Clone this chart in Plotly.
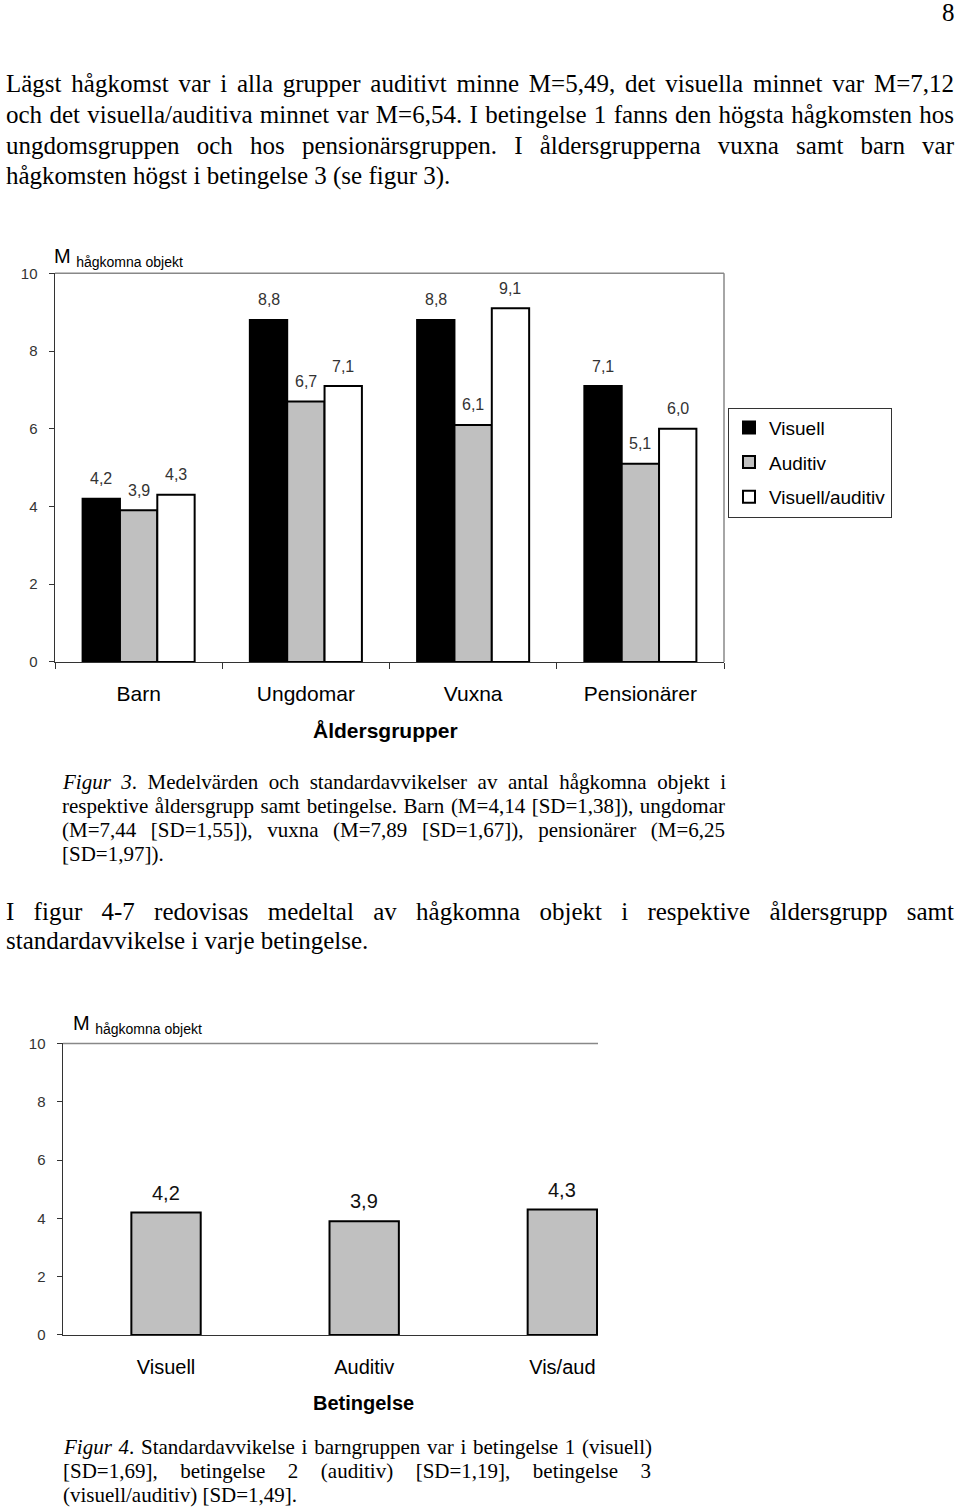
import json
import plotly.graph_objects as go

W, H = 960, 1507

# ---------------- data ----------------
age_groups = ["Barn", "Ungdomar", "Vuxna", "Pensionärer"]
series_names = ["Visuell", "Auditiv", "Visuell/auditiv"]
visuell = [4.2, 8.8, 8.8, 7.1]
auditiv = [3.9, 6.7, 6.1, 5.1]
vis_aud = [4.3, 7.1, 9.1, 6.0]
y_ticks = [0, 2, 4, 6, 8, 10]

conditions = ["Visuell", "Auditiv", "Vis/aud"]
barn_means = [4.2, 3.9, 4.3]

# ---------------- helpers ----------------
def fx(px):
    return px / W

def Y(py):
    # vertical calibration of page positions
    return (py - 10.07) / 0.98723

def fy(py):
    return 1 - Y(py) / H

def fmt(v):
    return f"{v:.1f}".replace(".", ",")

SANS = "Liberation Sans, Arial, sans-serif"
SERIF = "Liberation Serif, Times New Roman, serif"

fills = ["#000000", "#C0C0C0", "#FFFFFF"]
series_vals = [visuell, auditiv, vis_aud]

fig = go.Figure()

# chart 1 bars
for name, vals, col in zip(series_names, series_vals, fills):
    fig.add_trace(go.Bar(
        x=age_groups, y=vals, name=name, legendgroup=name,
        marker=dict(color=col, line=dict(color="#000000", width=2)),
        xaxis="x", yaxis="y", hoverinfo="skip",
    ))

# chart 2 bars
fig.add_trace(go.Bar(
    x=conditions, y=barn_means, width=0.35, showlegend=False,
    marker=dict(color="#C0C0C0", line=dict(color="#000000", width=2)),
    xaxis="x2", yaxis="y2", hoverinfo="skip",
))

# geometry
c1_l, c1_r, c1_t, c1_b = 55, 724, 274, 662
c2_l, c2_r, c2_t, c2_b = 63, 598, 1043, 1334
bargap = 0.33
cat_w = (c1_r - c1_l) / len(age_groups)
bar_w = cat_w * (1 - bargap) / 3

annotations = []

# chart 1 value labels
for i, vals in enumerate(series_vals):
    for cat, v in zip(age_groups, vals):
        annotations.append(dict(
            x=cat, y=v, xref="x", yref="y", text=fmt(v), showarrow=False,
            xshift=(i - 1) * bar_w, yshift=20, yanchor="middle",
            font=dict(family=SANS, size=16, color="#333333"),
        ))

# chart 2 value labels
for cat, v in zip(conditions, barn_means):
    annotations.append(dict(
        x=cat, y=v, xref="x2", yref="y2", text=fmt(v), showarrow=False,
        yshift=20, yanchor="middle",
        font=dict(family=SANS, size=20, color="#111111"),
    ))

# axis labels
annotations += [
    dict(x=fx(52), y=fy(258), xref="paper", yref="paper", xanchor="left", yanchor="middle",
         text="M <sub>hågkomna objekt</sub>", showarrow=False,
         font=dict(family=SANS, size=20, color="#000")),
    dict(x=fx(385), y=fy(730), xref="paper", yref="paper", xanchor="center", yanchor="middle",
         text="<b>Åldersgrupper</b>", showarrow=False,
         font=dict(family=SANS, size=21, color="#000")),
    dict(x=fx(71), y=fy(1024), xref="paper", yref="paper", xanchor="left", yanchor="middle",
         text="M <sub>hågkomna objekt</sub>", showarrow=False,
         font=dict(family=SANS, size=20, color="#000")),
    dict(x=fx(363), y=fy(1402), xref="paper", yref="paper", xanchor="center", yanchor="middle",
         text="<b>Betingelse</b>", showarrow=False,
         font=dict(family=SANS, size=20, color="#000")),
    dict(x=fx(957), y=fy(14), xref="paper", yref="paper", xanchor="right", yanchor="middle",
         text="8", showarrow=False, font=dict(family=SERIF, size=25, color="#000")),
]

BODY = 25
CAP = 21
# body text lines: (text, left px, center y px, font size, right px for justification)
lines = [
    ("Lägst hågkomst var i alla grupper auditivt minne M=5,49, det visuella minnet var M=7,12", 5, 84, BODY, 953),
    ("och det visuella/auditiva minnet var M=6,54. I betingelse 1 fanns den högsta hågkomsten hos", 5, 115, BODY, 953),
    ("ungdomsgruppen och hos pensionärsgruppen. I åldersgrupperna vuxna samt barn var", 5, 146, BODY, 953),
    ("hågkomsten högst i betingelse 3 (se figur 3).", 5, 177, BODY, None),
    ("<i>Figur 3</i>. Medelvärden och standardavvikelser av antal hågkomna objekt i", 61, 782, CAP, 724),
    ("respektive åldersgrupp samt betingelse. Barn (M=4,14 [SD=1,38]), ungdomar", 61, 806, CAP, 724),
    ("(M=7,44 [SD=1,55]), vuxna (M=7,89 [SD=1,67]), pensionärer (M=6,25", 61, 830, CAP, 724),
    ("[SD=1,97]).", 61, 854, CAP, None),
    ("I figur 4-7 redovisas medeltal av hågkomna objekt i respektive åldersgrupp samt", 5, 911, BODY, 953),
    ("standardavvikelse i varje betingelse.", 5, 940, BODY, None),
    ("<i>Figur 4</i>. Standardavvikelse i barngruppen var i betingelse 1 (visuell)", 62, 1446, CAP, 650),
    ("[SD=1,69], betingelse 2 (auditiv) [SD=1,19], betingelse 3", 62, 1470, CAP, 650),
    ("(visuell/auditiv) [SD=1,49].", 62, 1494, CAP, None),
]

justify = {}
for text, lx, cy, size, rx in lines:
    idx = len(annotations)
    annotations.append(dict(
        x=fx(lx), y=fy(cy), xref="paper", yref="paper", xanchor="left", yanchor="middle",
        align="left", text=text, showarrow=False, borderpad=0,
        font=dict(family=SERIF, size=size, color="#000"),
    ))
    if rx is not None:
        justify[str(idx)] = rx - lx

shapes = [
    # chart 1 frame (top & right, gray)
    dict(type="line", xref="x domain", yref="y domain", x0=0, x1=1, y0=1, y1=1,
         line=dict(color="#888888", width=1.5)),
    dict(type="line", xref="x domain", yref="y domain", x0=1, x1=1, y0=0, y1=1,
         line=dict(color="#888888", width=1.5)),
    # chart 2 top line
    dict(type="line", xref="x2 domain", yref="y2 domain", x0=0, x1=1, y0=1, y1=1,
         line=dict(color="#888888", width=1.5)),
]

axis_common = dict(showgrid=False, zeroline=False, showline=True, linecolor="#333333",
                   linewidth=1.5, fixedrange=True)

fig.update_layout(
    width=W, height=H, autosize=False,
    margin=dict(l=0, r=0, t=0, b=0),
    paper_bgcolor="white", plot_bgcolor="white",
    barmode="group", bargap=bargap, bargroupgap=0,
    showlegend=True,
    legend=dict(
        x=fx(728), y=fy(408), xanchor="left", yanchor="top",
        bordercolor="#333333", borderwidth=1, bgcolor="white",
        font=dict(family=SANS, size=19, color="#000"),
        traceorder="grouped", tracegroupgap=7, itemclick=False, itemwidth=30,
    ),
    xaxis=dict(domain=[fx(c1_l), fx(c1_r)], anchor="y", type="category",
               categoryorder="array", categoryarray=age_groups, range=[-0.5, 3.5],
               ticks="outside", tickson="boundaries", ticklen=6, tickcolor="#333333",
               tickfont=dict(family=SANS, size=21, color="#000"), ticklabelstandoff=12,
               **axis_common),
    yaxis=dict(domain=[fy(c1_b), fy(c1_t)], anchor="x", range=[0, 10],
               tickvals=y_ticks, ticks="outside", ticklen=5, tickcolor="#333333",
               tickfont=dict(family=SANS, size=15, color="#333333"), ticklabelstandoff=8,
               **axis_common),
    xaxis2=dict(domain=[fx(c2_l), fx(c2_r)], anchor="y2", type="category",
                categoryorder="array", categoryarray=conditions, range=[-0.52, 2.18],
                ticks="", tickfont=dict(family=SANS, size=20, color="#000"),
                ticklabelstandoff=14, **axis_common),
    yaxis2=dict(domain=[fy(c2_b), fy(c2_t)], anchor="x2", range=[0, 10],
                tickvals=y_ticks, ticks="outside", ticklen=5, tickcolor="#333333",
                tickfont=dict(family=SANS, size=15, color="#333333"), ticklabelstandoff=8,
                **axis_common),
    annotations=annotations,
    shapes=shapes,
)

post_js = """
(function(){
  document.documentElement.style.margin = '0';
  document.body.style.margin = '0';
  var J = %s;
  function run(){
    var gd = document.querySelector('.plotly-graph-div');
    if (!gd) return;
    gd.querySelectorAll('g.annotation').forEach(function(g){
      var idx = g.getAttribute('data-index');
      if (!(idx in J)) return;
      var t = g.querySelector('text.annotation-text');
      if (!t) return;
      t.style.wordSpacing = '0px';
      var w = t.getComputedTextLength();
      var n = (t.textContent.match(/[ \\u00a0]/g) || []).length;
      if (n > 0 && J[idx] > w) t.style.wordSpacing = ((J[idx] - w) / n) + 'px';
    });
  }
  run();
  setTimeout(run, 150);
  setTimeout(run, 600);
})();
""" % json.dumps(justify)

fig.write_html("out.html", config={"displayModeBar": False, "staticPlot": True},
               post_script=post_js)
